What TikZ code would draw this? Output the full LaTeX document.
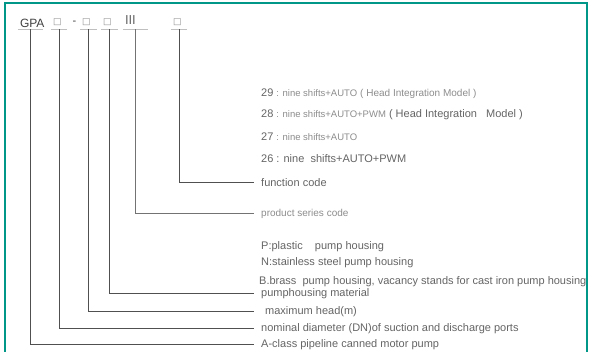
\documentclass[tikz,border=0pt]{standalone}
\usepackage{fontspec}
\setmainfont{Liberation Sans}
\newfontfamily\symfont{DejaVu Sans}
\usetikzlibrary{positioning}
\definecolor{frameteal}{RGB}{0, 150, 136}
\definecolor{txtgray}{RGB}{100, 100, 100}
\definecolor{softgray}{RGB}{140, 140, 140}
\definecolor{linegray}{RGB}{80, 80, 80}
% smaller, lighter parts of a line
\newcommand{\sm}[1]{{\fontsize{9.5}{11}\selectfont\color{softgray}#1}}
\newcommand{\slotsq}{\raisebox{3pt}{\symfont\fontsize{9}{9}\selectfont\color{softgray}□}}

\begin{document}
\begin{tikzpicture}[x=1pt, y=-1pt,
        % Global font for the labels
        font=\fontsize{11}{13}\selectfont,
        % Styles for the type string and its explanations
        code/.style={anchor=south, inner xsep=2pt, inner ysep=2pt, text depth=0pt, align=left, text=txtgray},
        uline/.style={draw=black!25, line width=0.8pt},
        conn/.style={draw=linegray, line width=1pt},
        label/.style={anchor=west, inner xsep=7pt, inner ysep=0pt, text=txtgray}
    ]
    \useasboundingbox (0,0) rectangle (589,352);
    \draw[frameteal, line width=1.2pt] (5,354) -- (5,3) -- (587,3) -- (587,354);

    % Type string
    \node[code, text width=21pt, text=black!75, font=\fontsize{12}{14}\selectfont] (gpa) at (30.5,29.5) {GPA};
    \node[code, text width=12pt] (b1) at (59,29.5) {\slotsq};
    \node[text=black!75, inner sep=0pt] (dash) at (74.5,23) {-};
    \node[code, text width=13pt] (b2) at (88.5,29.5) {\slotsq};
    \node[code, text width=13pt] (b3) at (109.5,29.5) {\slotsq};
    \node[code, text width=21pt] (ser) at (135.5,29.5) {\raisebox{3pt}{\fontsize{13}{13}\selectfont III}};
    \node[code, text width=12pt] (b4) at (179,29.5) {\slotsq};
    \foreach \n in {gpa, b1, b2, b3, ser, b4} {
        \draw[uline] (\n.south west) -- (\n.south east);
    }

    % Function code options
    \node[label] (t29) at (254,94) {29 \sm{: nine shifts+AUTO} {\fontsize{10}{12}\selectfont\color{softgray}( Head Integration Model )}};
    \node[label] (t28) at (254,115) {28 \sm{: nine shifts+AUTO+PWM} ( Head Integration\ \ \ Model )};
    \node[label] (t27) at (254,137) {27 \sm{: nine shifts+AUTO}};
    \node[label] (t26) at (254,159) {26 : nine\ \ shifts+AUTO+PWM};
    \node[label] (tfun) at (254,183) {function code};
    \node[label, text=softgray, font=\fontsize{10}{12}\selectfont] (tser) at (254,214) {product series code};

    % Pump housing options
    \node[label] (tP) at (254,247) {P:plastic\ \ \ \ pump housing};
    \node[label] (tN) at (254,263) {N:stainless steel pump housing};
    \node[label, inner xsep=5pt] (tB) at (254,282) {B.brass\ \ pump housing, vacancy stands for cast iron pump housing};
    \node[label] (tmat) at (254,294) {pumphousing material};
    \node[label] (thead) at (254,312) {\hspace{4pt}maximum head(m)};
    \node[label] (tdn) at (254,329) {nominal diameter (DN)of suction and discharge ports};
    \node[label] (tcls) at (254,345) {A-class pipeline canned motor pump};

    % Connectors
    \draw[conn] (b4.south) |- (tfun.west);
    \draw[conn, draw=black!55] (ser.south) |- (tser.west);
    \draw[conn] (b3.south) |- (tmat.west);
    \draw[conn] (b2.south) |- (thead.west);
    \draw[conn] (b1.south) |- (tdn.west);
    \draw[conn] (gpa.south) |- (tcls.west);
\end{tikzpicture}
\end{document}
